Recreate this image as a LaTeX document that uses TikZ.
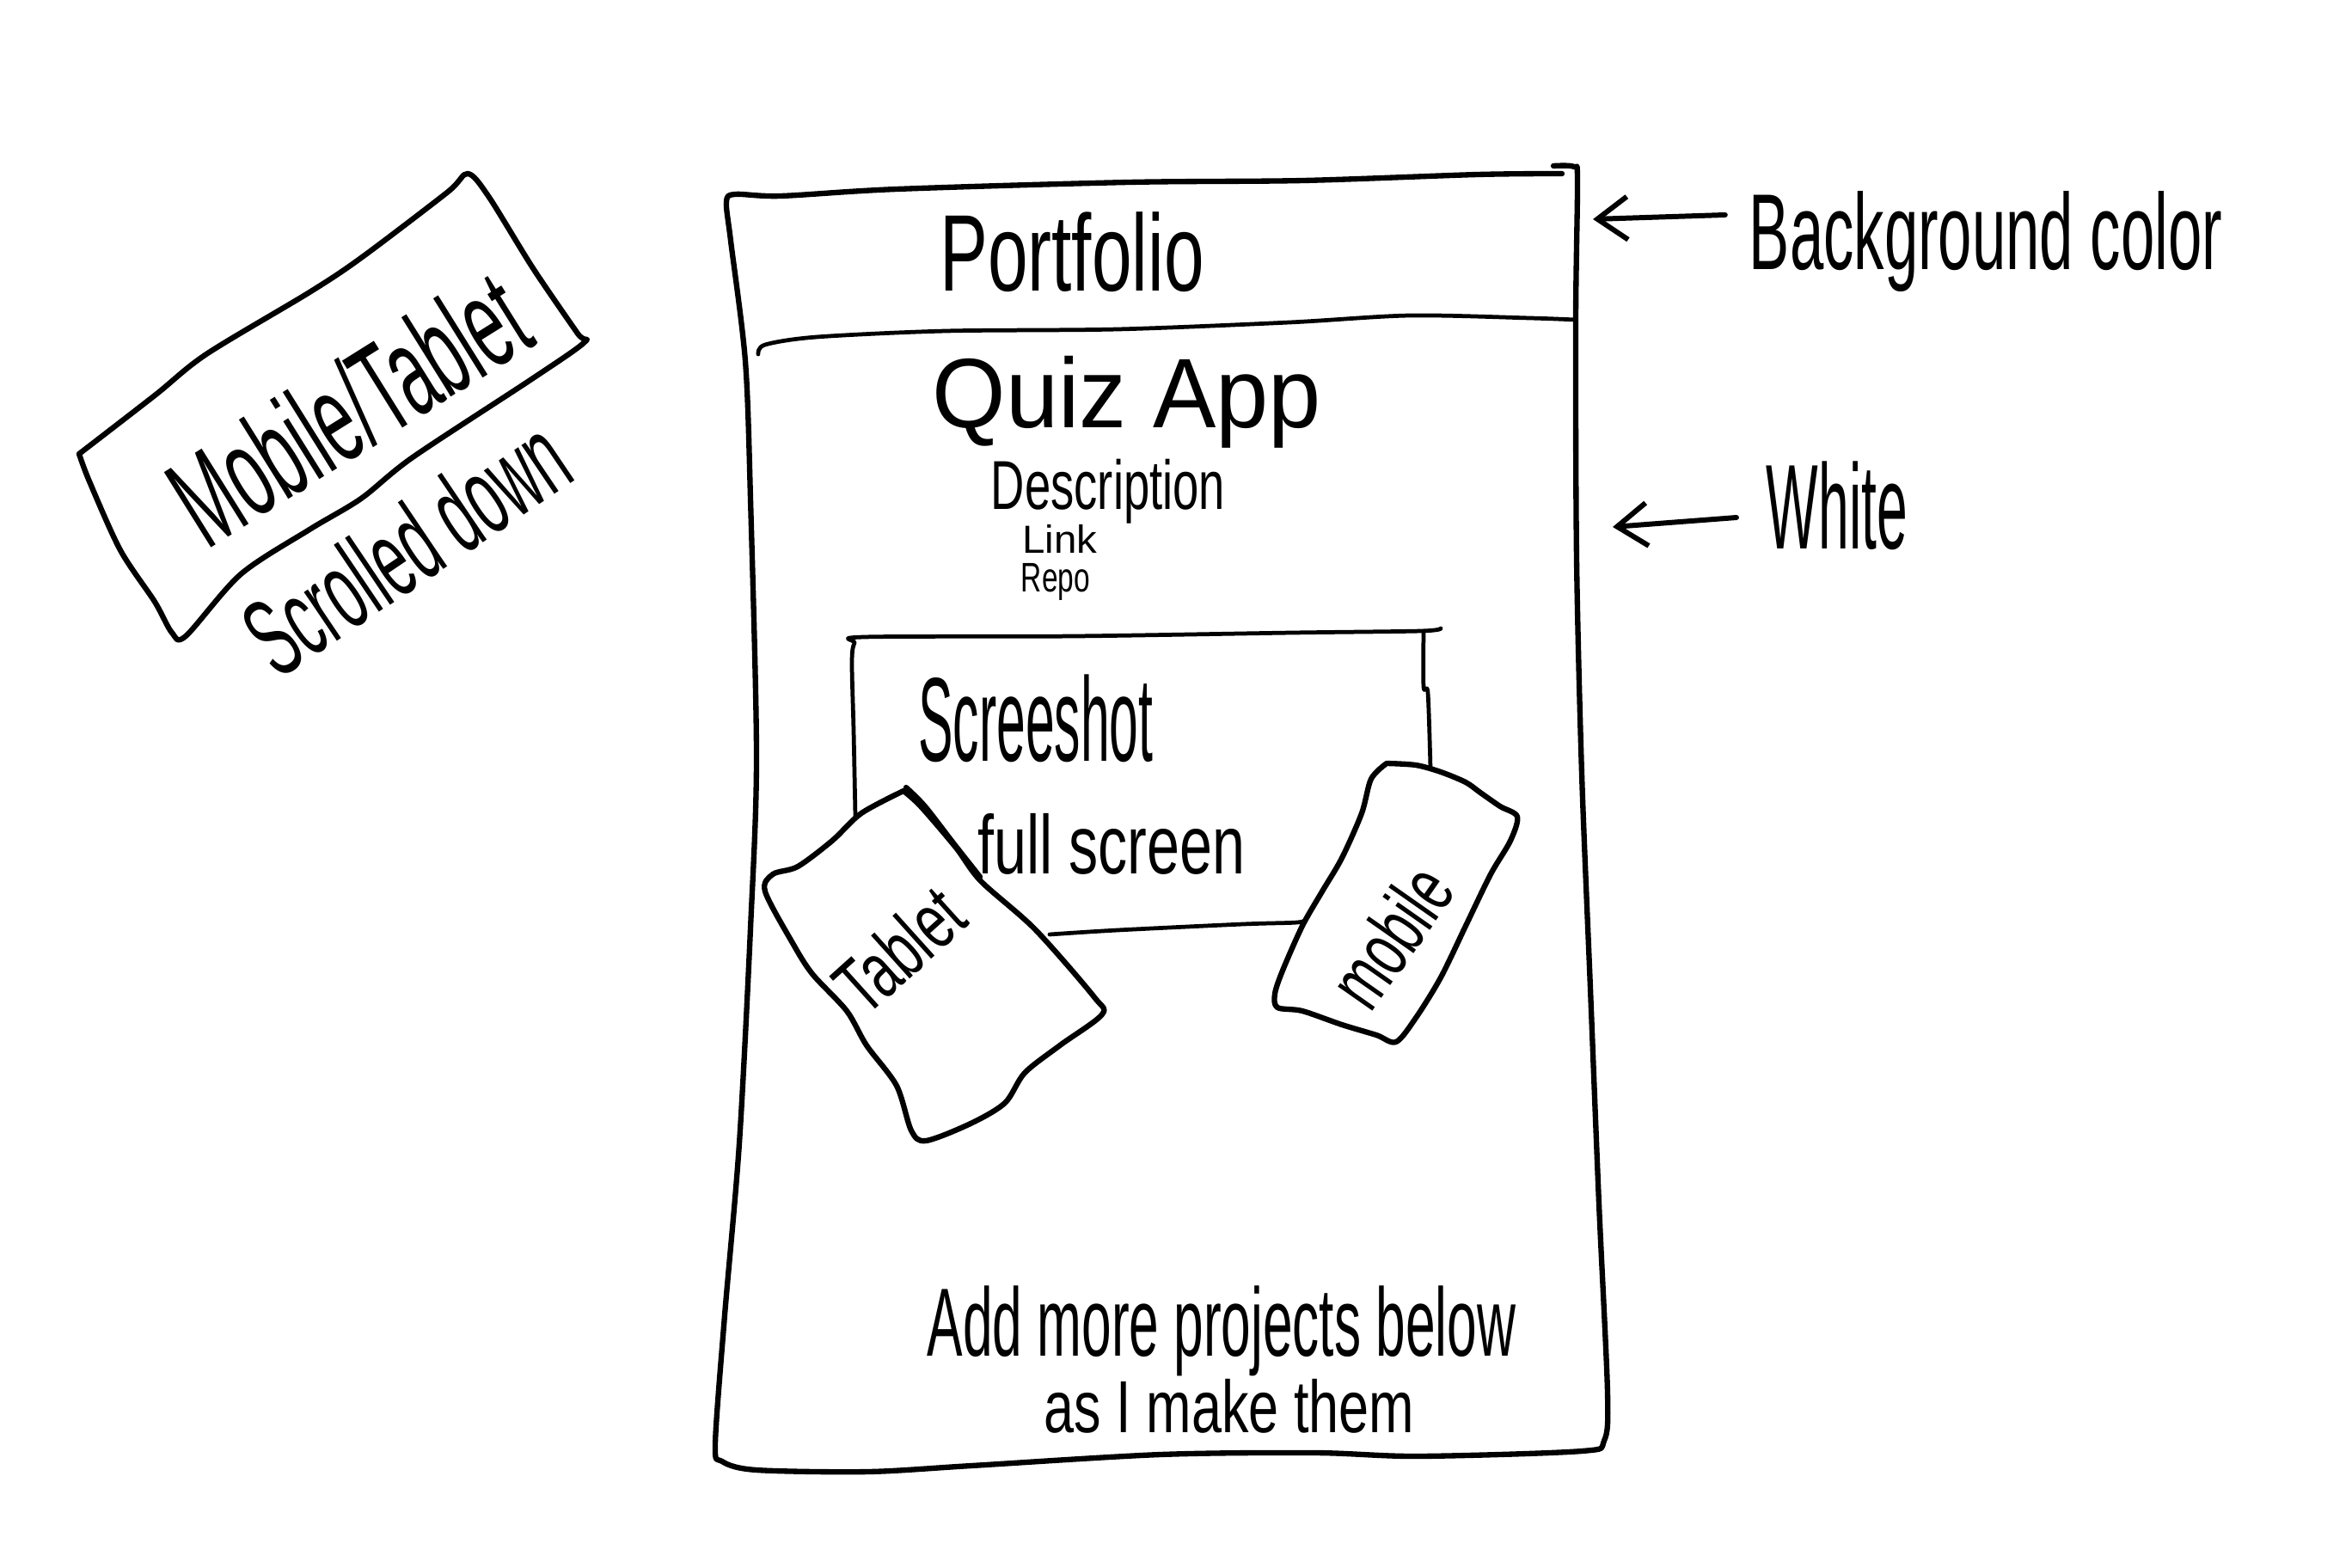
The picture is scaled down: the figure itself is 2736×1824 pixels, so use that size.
\documentclass[tikz,border=0pt]{standalone}
\usepackage{fontspec}
\usepackage{graphicx}
\newfontfamily\hand{Liberation Sans}
\usetikzlibrary{arrows.meta}
\newcommand{\hw}[3]{\resizebox*{#1}{#2}{\hand #3}}
\begin{document}
\begin{tikzpicture}[x=0.01cm,y=-0.01cm,line cap=round,line join=round,
  penA/.style={line width=1.8pt},
  penB/.style={line width=1.35pt},
  lbl/.style={inner sep=0pt,outer sep=0pt,anchor=center},
  arr/.style={line width=1.7pt,-{Straight Barb[length=3.5mm,width=5mm]}}]
\useasboundingbox[fill=white] (0,0) rectangle (2736,1824);

% ---- left label box ----
\draw[penA] plot[smooth,tension=0.5] coordinates {(92,528) (104,560) (140,640) (180,700) (200,736) (216,740) (280,668) (360,616) (420,580) (480,532) (620,440) (680,398) (672,388) (620,312) (568,228) (544,202) (520,224) (420,300) (360,340) (240,412) (180,460) (92,528)};
\node[lbl,rotate=32] (mt) at (405,474) {\hw{4.55cm}{1.10cm}{Mobile/Tablet}};
\node[lbl,rotate=34] (scroll) at (472,636) {\hw{4.20cm}{0.95cm}{Scrolled down}};

% ---- main page ----
\draw[penA] plot[smooth,tension=0.5] coordinates {(1807,193) (1831,194) (1835,210) (1833,373) (1834,650) (1840,900) (1850,1150) (1860,1400) (1870,1620) (1866,1676) (1840,1688) (1650,1694) (1530,1690) (1350,1692) (1130,1705) (1010,1712) (880,1710) (840,1700) (832,1680) (843,1530) (860,1330) (873,1080) (880,880) (873,580) (867,420) (850,280) (845,235) (855,226) (908,228) (1043,220) (1313,212) (1516,210) (1719,203) (1817,202)};
\draw[penB] plot[smooth,tension=0.5] coordinates {(882,412) (890,401) (950,392) (1100,385) (1300,383) (1500,375) (1640,367) (1780,370) (1833,372)};

\node[lbl] (portfolio) at (1247,293) {\hw{3.07cm}{0.93cm}{Portfolio}};
\node[lbl] (quiz) at (1311,468) {\hw{4.52cm}{1.07cm}{Quiz App}};
\node[lbl] (desc) at (1289,572) {\hw{2.72cm}{0.75cm}{Description}};
\node[lbl] (link) at (1233,627) {\hw{0.87cm}{0.33cm}{Link}};
\node[lbl] (repo) at (1228,677) {\hw{0.80cm}{0.43cm}{Repo}};

% ---- screenshot box ----
\draw[penB] plot[smooth,tension=0.5] coordinates {(995,950) (993,850) (991,770) (994,748) (1005,741) (1250,740) (1503,736) (1653,734) (1676,731)};
\draw[penB] plot[smooth,tension=0.5] coordinates {(1656,734) (1656,799) (1661,806) (1664,894)};
\draw[penB] plot[smooth,tension=0.5] coordinates {(1221,1087) (1300,1082) (1446,1075) (1509,1073) (1520,1069)};
\node[lbl] (shot) at (1205,836) {\hw{2.73cm}{1.02cm}{Screeshot}};
\node[lbl] (full) at (1293,982) {\hw{3.11cm}{0.71cm}{full screen}};

% ---- tablet ----
\draw[penA,fill=white] plot[smooth,tension=0.5] coordinates {(1051,920) (1002,946) (968,978) (928,1008) (899,1017) (890,1037) (922,1097) (945,1133) (985,1176) (1008,1216) (1043,1263) (1060,1315) (1077,1327) (1129,1307) (1169,1283) (1192,1248) (1233,1216) (1282,1180) (1273,1160) (1204,1081) (1141,1025) (1112,986) (1071,938) (1051,920)};
\draw[penA] plot[smooth,tension=0.5] coordinates {(1054,916) (1076,938) (1110,982) (1140,1020)};
\node[lbl,rotate=42] (tablet) at (1046,1105) {\hw{1.65cm}{0.68cm}{Tablet}};

% ---- mobile ----
\draw[penA,fill=white] plot[smooth,tension=0.5] coordinates {(1613,888) (1647,890) (1676,898) (1705,910) (1722,922) (1745,938) (1765,950) (1757,978) (1734,1017) (1705,1077) (1676,1137) (1647,1184) (1624,1212) (1601,1204) (1561,1192) (1515,1176) (1486,1172) (1483,1156) (1492,1129) (1515,1077) (1538,1037) (1561,998) (1584,946) (1595,906) (1613,888)};
\node[lbl,rotate=55] (mobile) at (1618,1089) {\hw{1.75cm}{0.68cm}{mobile}};

% ---- bottom notes ----
\node[lbl] (more) at (1421,1548) {\hw{6.84cm}{1.05cm}{Add more projects below}};
\node[lbl] (make) at (1430,1636) {\hw{4.30cm}{0.63cm}{as I make them}};

% ---- annotations ----
\node[lbl] (bg) at (2310,281) {\hw{5.50cm}{1.17cm}{Background color}};
\node[lbl] (white) at (2137,588) {\hw{1.64cm}{1.03cm}{White}};
\coordinate (bgtip) at (1853,255);
\coordinate (whitetip) at (1876,613);
\draw[arr] ([xshift=-0.28cm,yshift=0.31cm]bg.west) -- (bgtip);
\draw[arr] ([xshift=-0.35cm,yshift=-0.14cm]white.west) -- (whitetip);
\end{tikzpicture}
\end{document}
